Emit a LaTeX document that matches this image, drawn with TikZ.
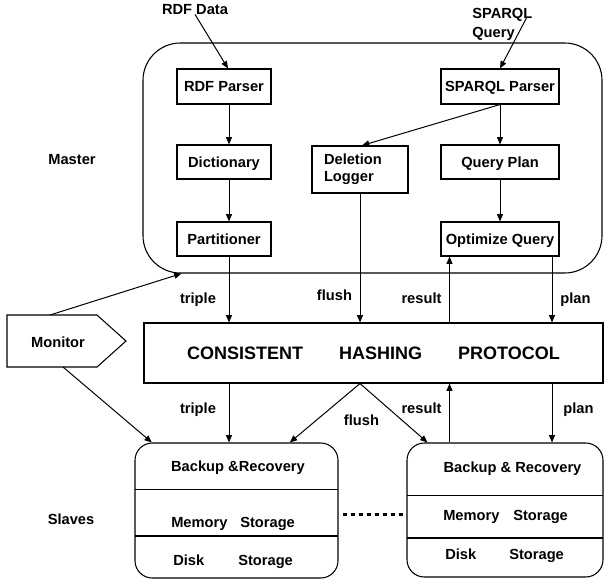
\documentclass[tikz,border=0pt]{standalone}
\usepackage{fontspec}
\setmainfont{Liberation Sans}
\usetikzlibrary{arrows.meta}
\begin{document}
\begin{tikzpicture}[x=0.75pt,y=-0.75pt,
  txt/.style={font=\fontsize{11}{14.25}\selectfont\bfseries, inner sep=0pt},
  box/.style={draw, line width=0.8pt, font=\fontsize{11}{13}\selectfont\bfseries, inner sep=0pt, text height=7.9pt, text depth=0pt},
  dbox/.style={draw, line width=0.8pt, font=\fontsize{11}{13}\selectfont\bfseries, align=left, text width=54pt, inner xsep=9pt, inner ysep=0pt},
  frame/.style={draw, line width=0.8pt, inner sep=0pt},
  lbl/.style={txt, anchor=base},
  lw/.style={txt, anchor=base west},
  arr/.style={-{Triangle[length=5.5pt,width=4.5pt]}, line width=0.75pt}]
\useasboundingbox (0,0) rectangle (605,582);

% containers
\node[frame, rounded corners=28pt, minimum width=344.25pt, minimum height=172.5pt] (master) at (372.5,158) {};
\node[frame, minimum width=344.25pt, minimum height=45pt, font=\fontsize{13.5}{16}\selectfont\bfseries] (chp) at (373.5,353) {CONSISTENT\hspace{27pt}HASHING\hspace{27pt}PROTOCOL};
\node[frame, rounded corners=13pt, minimum width=152.25pt, minimum height=101.25pt] (slave1) at (236.5,510.5) {};
\node[frame, rounded corners=13pt, minimum width=147pt, minimum height=100.5pt] (slave2) at (505,510) {};

% master boxes
\node[box, minimum width=70.5pt, minimum height=26.25pt] (rdfparser) at (224,86.5) {RDF Parser};
\node[box, minimum width=88.5pt, minimum height=26.25pt] (sparqlparser) at (500,86.5) {SPARQL Parser};
\node[box, minimum width=70.5pt, minimum height=25.5pt] (dictionary) at (224,162) {Dictionary};
\node[dbox, minimum height=35.25pt] (dlogger) at (360,169.5) {Deletion\\Logger};
\node[box, minimum width=88.5pt, minimum height=25.5pt] (queryplan) at (500,162) {Query Plan};
\node[box, minimum width=70.5pt, minimum height=25.5pt] (partitioner) at (224,239) {Partitioner};
\node[box, minimum width=88.5pt, minimum height=25.5pt] (optimize) at (500,239) {Optimize Query};

% inputs
\node[lbl] (rdfdata) at (195,14) {RDF Data};
\node[txt, align=left, anchor=north west] (sparqlq) at (472,8) {SPARQL\\Query};
\coordinate (sq) at (527,17);

% side labels
\node[lbl] (masterlbl) at (72,164) {Master};
\node[lbl] (slaveslbl) at (71,524) {Slaves};

% monitor
\draw[line width=0.8pt] (7,315) -- (97,315) -- (126,341) -- (97,367) -- (7,367) -- cycle;
\node[txt] (monitor) at (58,342) {Monitor};
\coordinate (monA) at (50,315);
\coordinate (monB) at (63,367);

% slave contents
\draw[line width=0.75pt] (135,489) -- (338,489);
\draw[line width=1.5pt] (135,536) -- (338,536);
\draw[line width=0.75pt] (407,495) -- (603,495);
\draw[line width=1.5pt] (407,538) -- (603,538);
\node[lbl] (br1) at (238,471) {Backup \&Recovery};
\node[lw] (mem1) at (171,527) {Memory};
\node[lw] (ms1) at (240,527) {Storage};
\node[lw] (disk1) at (173,565) {Disk};
\node[lw] (ds1) at (238,565) {Storage};
\node[lbl] (br2) at (512.5,472) {Backup \& Recovery};
\node[lw] (mem2) at (443,520) {Memory};
\node[lw] (ms2) at (513,520) {Storage};
\node[lw] (disk2) at (445,559) {Disk};
\node[lw] (ds2) at (509,559) {Storage};

% connector labels
\node[lbl] (l1) at (198,303) {triple};
\node[lbl] (l2) at (334.5,300) {flush};
\node[lbl] (l3) at (421.5,303) {result};
\node[lbl] (l4) at (575.5,303) {plan};
\node[lbl] (l5) at (198,413) {triple};
\node[lbl] (l6) at (361.5,425) {flush};
\node[lbl] (l7) at (421.5,413) {result};
\node[lbl] (l8) at (578.5,413) {plan};

% helper x positions
\coordinate (xA) at (229,0);
\coordinate (xC) at (449.5,0);
\coordinate (xD) at (552,0);
\coordinate (dotc) at (0,514);

% connectors
\draw[arr] (rdfdata.south) -- ([xshift=3pt]rdfparser.north);
\draw[arr] (sq) -- (sparqlparser.north);
\draw[arr] (rdfparser.south -| xA) -- (dictionary.north -| xA);
\draw[arr] (dictionary.south -| xA) -- (partitioner.north -| xA);
\draw[arr] (partitioner.south -| xA) -- (chp.north -| xA);
\draw[arr] (chp.south -| xA) -- (slave1.north -| xA);
\draw[arr] (sparqlparser.south) -- (queryplan.north);
\draw[arr] (queryplan.south) -- (optimize.north);
\draw[arr] (sparqlparser.south) -- ([xshift=1.5pt]dlogger.north);
\draw[arr] (dlogger.south) -- (dlogger.south |- chp.north);
\draw[arr] (chp.north -| xC) -- (optimize.south -| xC);
\draw[arr] (optimize.south -| xD) -- (chp.north -| xD);
\draw[arr] (chp.south -| xD) -- (slave2.north -| xD);
\draw[arr] (slave2.north -| xC) -- (chp.south -| xC);
\draw[arr] (chp.south -| dlogger.south) -- ([xshift=40pt]slave1.north);
\draw[arr] (chp.south -| dlogger.south) -- ([xshift=15.75pt]slave2.north west);
\draw[arr] (monA) -- ([xshift=29.25pt]master.south west);
\draw[arr] (monB) -- ([xshift=13pt]slave1.north west);
\draw[line width=2.25pt, dash pattern=on 3.5pt off 2.5pt] ([xshift=3pt]slave1.east |- dotc) -- (slave2.west |- dotc);
\end{tikzpicture}
\end{document}
